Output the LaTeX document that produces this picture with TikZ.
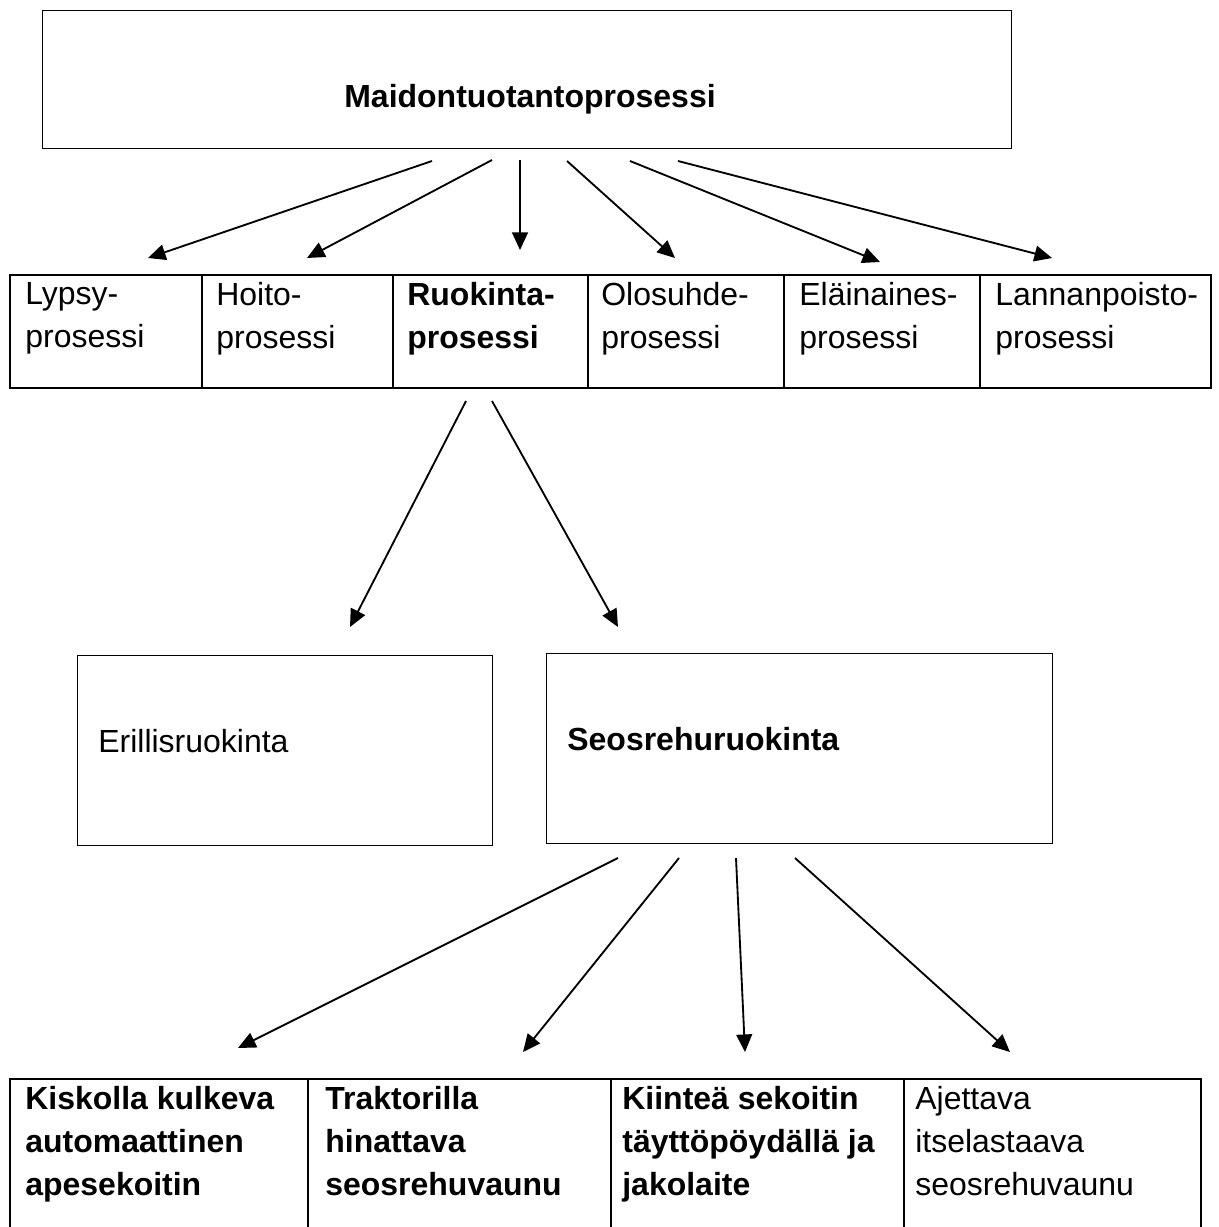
\documentclass[tikz,border=0pt]{standalone}
\usepackage{fontspec}
\setmainfont{Liberation Sans}
\usetikzlibrary{positioning, arrows.meta}

\newcommand{\txtsize}{\fontsize{18.2}{24.4}\selectfont}

\begin{document}
\begin{tikzpicture}[x=0.02cm, y=-0.02cm,
    frame/.style={draw, line width=0.8pt, inner sep=0pt, anchor=north west},
    cell/.style={draw, line width=1.3pt, inner sep=0pt, anchor=north west},
    lbl/.style={inner sep=0pt, align=left, font=\txtsize},
    arr/.style={line width=1.05pt, -{Triangle[length=10pt, width=9pt]}}]

    \useasboundingbox (0,0) rectangle (1218,1227);
    \clip (0,0) rectangle (1218,1227);

    % Main process
    \node[frame, minimum width=19.38cm, minimum height=2.76cm] (main) at (42,10) {};
    \node[lbl, anchor=base, font=\txtsize\bfseries] (maintxt) at (530,107) {Maidontuotantoprosessi};

    % Sub-processes
    \node[cell, minimum width=3.84cm, minimum height=2.26cm] (lyp) at (9,274) {};
    \node[cell, minimum width=3.82cm, minimum height=2.26cm] (hoi) at (201,274) {};
    \node[cell, minimum width=3.90cm, minimum height=2.26cm] (ruo) at (392,274) {};
    \node[cell, minimum width=3.92cm, minimum height=2.26cm] (olo) at (587,274) {};
    \node[cell, minimum width=3.92cm, minimum height=2.26cm] (ela) at (783,274) {};
    \node[cell, minimum width=4.62cm, minimum height=2.26cm] (lan) at (979,274) {};

    \node[lbl, anchor=north west] (lyptxt) at (25,282) {Lypsy-\\prosessi};
    \node[lbl, anchor=north west] (hoitxt) at (216,282) {Hoito-\\prosessi};
    \node[lbl, anchor=north west, font=\txtsize\bfseries] (ruotxt) at (407,282) {Ruokinta-\\prosessi};
    \node[lbl, anchor=north west] (olotxt) at (601,282) {Olosuhde-\\prosessi};
    \node[lbl, anchor=north west] (elatxt) at (799,282) {Eläinaines-\\prosessi};
    \node[lbl, anchor=north west] (lantxt) at (995,282) {Lannanpoisto-\\prosessi};

    % Feeding methods
    \node[frame, minimum width=8.30cm, minimum height=3.80cm] (eri) at (77,655) {};
    \node[frame, minimum width=10.12cm, minimum height=3.80cm] (seo) at (546,653) {};
    \node[lbl, anchor=base west] (eritxt) at (98,752) {Erillisruokinta};
    \node[lbl, anchor=base west, font=\txtsize\bfseries] (seotxt) at (567,750) {Seosrehuruokinta};

    % Mixer types
    \node[cell, minimum width=5.96cm, minimum height=3.34cm] (kis) at (9,1078) {};
    \node[cell, minimum width=6.06cm, minimum height=3.34cm] (tra) at (307,1078) {};
    \node[cell, minimum width=5.86cm, minimum height=3.34cm] (kii) at (610,1078) {};
    \node[cell, minimum width=5.94cm, minimum height=3.34cm] (aje) at (903,1078) {};

    \node[lbl, anchor=north west, font=\txtsize\bfseries] (kistxt) at (25,1086) {Kiskolla kulkeva\\automaattinen\\apesekoitin};
    \node[lbl, anchor=north west, font=\txtsize\bfseries] (tratxt) at (325,1086) {Traktorilla\\hinattava\\seosrehuvaunu};
    \node[lbl, anchor=north west, font=\txtsize\bfseries] (kiitxt) at (622,1086) {Kiinteä sekoitin\\täyttöpöydällä ja\\jakolaite};
    \node[lbl, anchor=north west] (ajetxt) at (915,1086) {Ajettava\\itselastaava\\seosrehuvaunu};

    % Arrow ends
    \coordinate (m1) at (432,161);  \coordinate (p1) at (148,258);
    \coordinate (m2) at (492,160);  \coordinate (p2) at (307,258);
    \coordinate (m3) at (520,160);  \coordinate (p3) at (520,250);
    \coordinate (m4) at (567,161);  \coordinate (p4) at (675,258);
    \coordinate (m5) at (630,161);  \coordinate (p5) at (880,262);
    \coordinate (m6) at (678,161);  \coordinate (p6) at (1052,258);
    \coordinate (r1) at (466,401);  \coordinate (f1) at (350,627);
    \coordinate (r2) at (492,401);  \coordinate (f2) at (618,627);
    \coordinate (s1) at (618,858);  \coordinate (k1) at (238,1048);
    \coordinate (s2) at (679,858);  \coordinate (k2) at (523,1052);
    \coordinate (s3) at (736,858);  \coordinate (k3) at (745,1052);
    \coordinate (s4) at (795,858);  \coordinate (k4) at (1010,1052);

    % Arrows
    \draw[arr] (m1) -- (p1);
    \draw[arr] (m2) -- (p2);
    \draw[arr] (m3) -- (p3);
    \draw[arr] (m4) -- (p4);
    \draw[arr] (m5) -- (p5);
    \draw[arr] (m6) -- (p6);
    \draw[arr] (r1) -- (f1);
    \draw[arr] (r2) -- (f2);
    \draw[arr] (s1) -- (k1);
    \draw[arr] (s2) -- (k2);
    \draw[arr] (s3) -- (k3);
    \draw[arr] (s4) -- (k4);

\end{tikzpicture}
\end{document}
